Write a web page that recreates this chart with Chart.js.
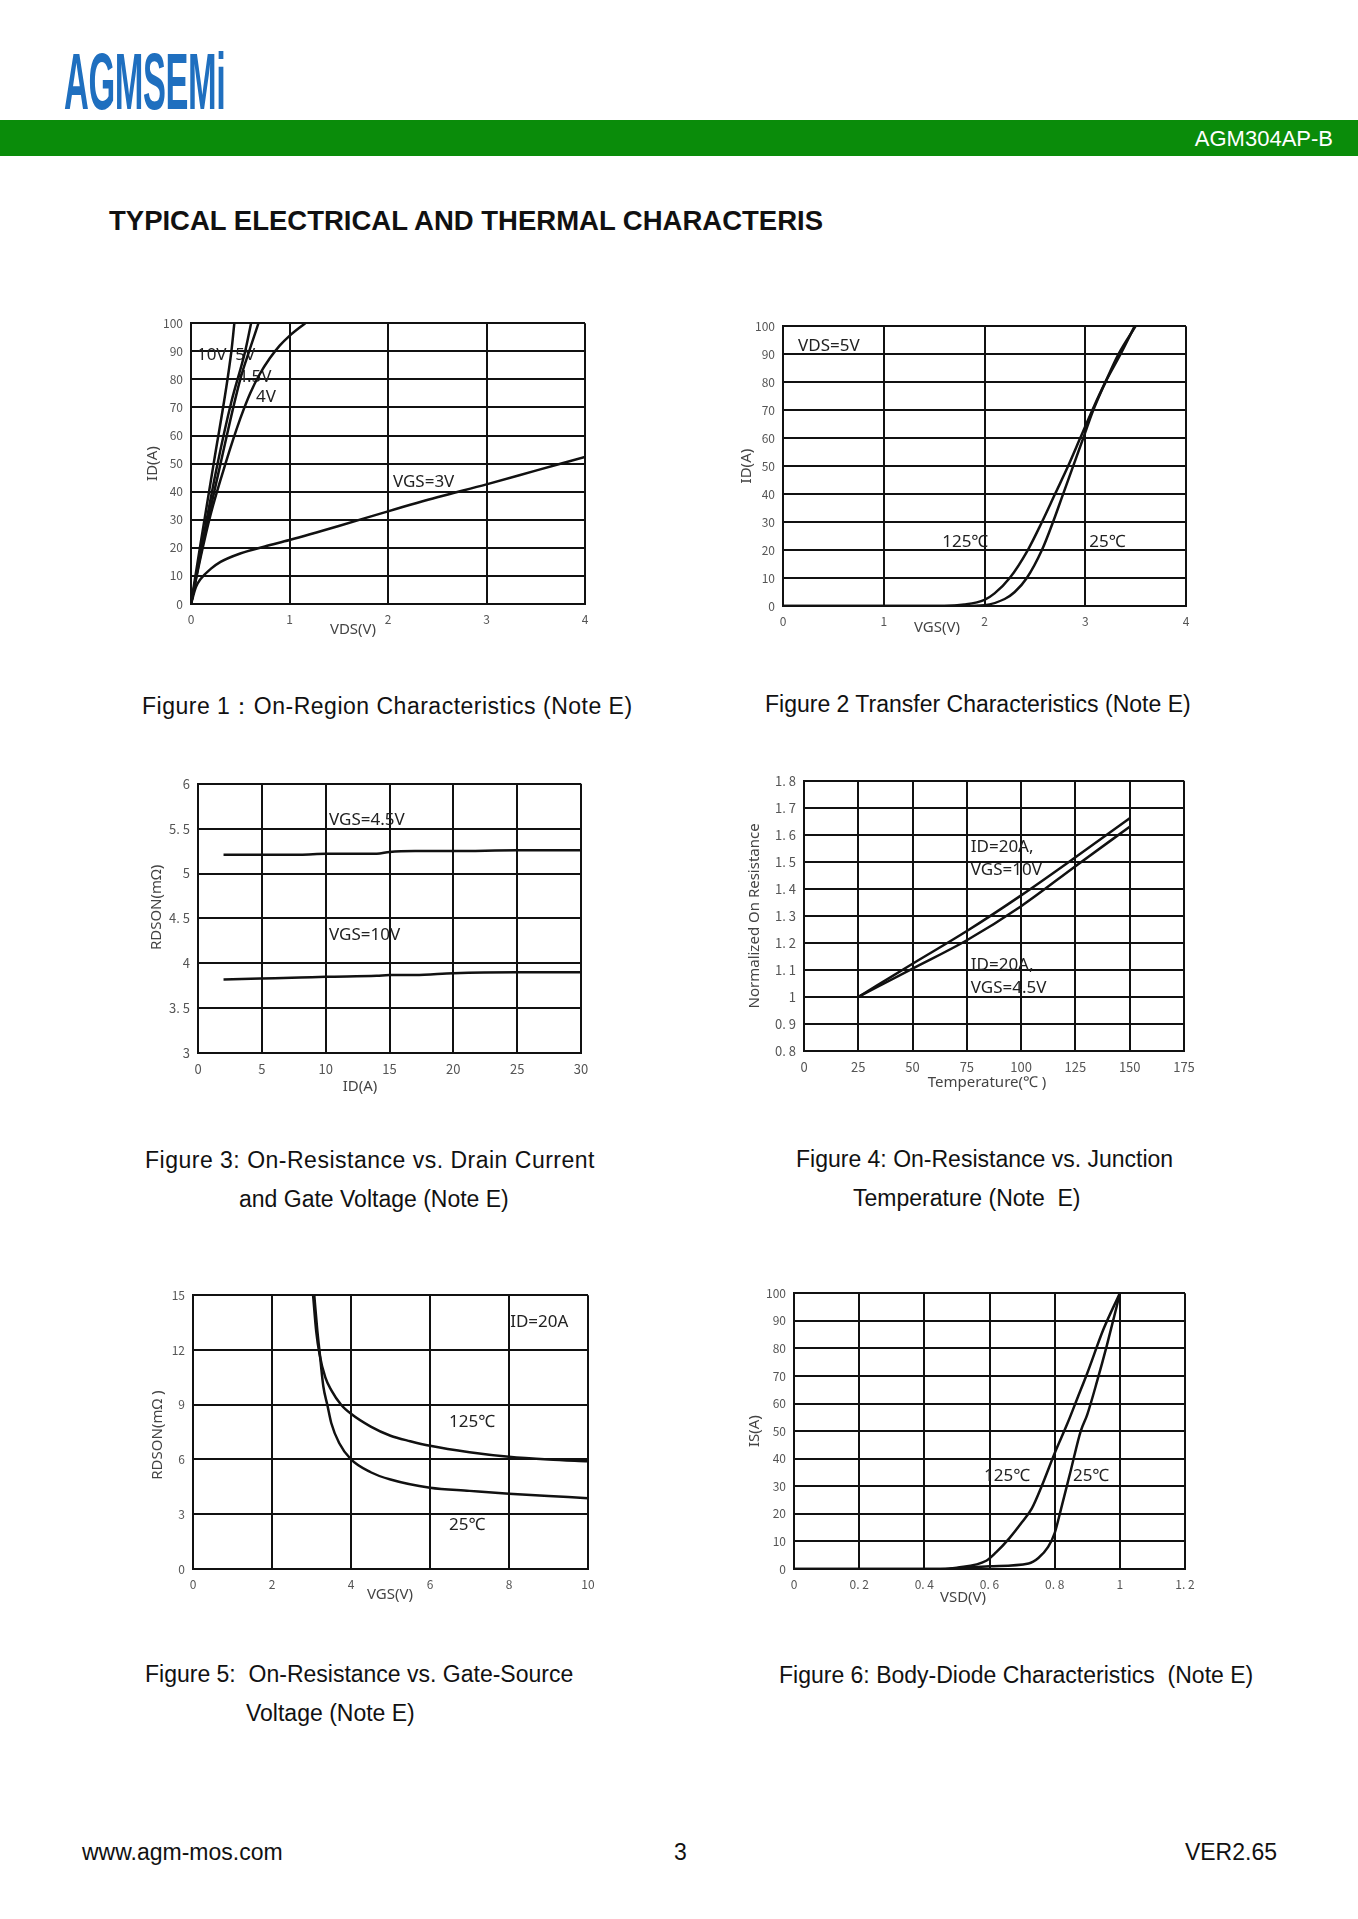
<!DOCTYPE html>
<html>
<head>
<meta charset="utf-8">
<script src="https://cdn.jsdelivr.net/npm/chart.js@4.4.0/dist/chart.umd.js"></script>
<style>
  body { margin:0; background:#fff; }
  #page { position:relative; width:1358px; height:1919px; overflow:hidden; background:#fff; font-family:"Liberation Sans", Arial, sans-serif; color:#111; }
  .abs { position:absolute; white-space:pre; }
  .cap { font-size:23px; line-height:26px; }
  canvas { position:absolute; }
</style>
</head>
<body>
<div id="page">
  <div class="abs" style="left:64px; top:36px; font:bold 80px 'Liberation Sans', Arial, sans-serif; color:#1f6fbf; transform:scaleX(0.43); transform-origin:left top; letter-spacing:-1px;">AGMSEMi</div>
  <div class="abs" style="left:0; top:120px; width:1358px; height:36px; background:#0a8c0a;"></div>
  <div class="abs" style="right:25px; top:126px; font-size:22px; line-height:26px; color:#fff;">AGM304AP-B</div>
  <div class="abs" style="left:109px; top:205px; font:bold 27.5px/32px 'Liberation Sans', Arial, sans-serif;">TYPICAL ELECTRICAL AND THERMAL CHARACTERIS</div>

  <canvas id="c1"></canvas>
  <canvas id="c2"></canvas>
  <canvas id="c3"></canvas>
  <canvas id="c4"></canvas>
  <canvas id="c5"></canvas>
  <canvas id="c6"></canvas>

  <div class="abs cap" style="left:142px; top:693px; letter-spacing:0.5px;">Figure 1：On-Region Characteristics (Note E)</div>
  <div class="abs cap" style="left:765px; top:691px;">Figure 2 Transfer Characteristics (Note E)</div>
  <div class="abs cap" style="left:145px; top:1147px; letter-spacing:0.5px;">Figure 3: On-Resistance vs. Drain Current</div>
  <div class="abs cap" style="left:239px; top:1186px;">and Gate Voltage (Note E)</div>
  <div class="abs cap" style="left:796px; top:1146px;">Figure 4: On-Resistance vs. Junction</div>
  <div class="abs cap" style="left:853px; top:1185px;">Temperature (Note  E)</div>
  <div class="abs cap" style="left:145px; top:1661px;">Figure 5:  On-Resistance vs. Gate-Source</div>
  <div class="abs cap" style="left:246px; top:1700px;">Voltage (Note E)</div>
  <div class="abs cap" style="left:779px; top:1662px;">Figure 6: Body-Diode Characteristics  (Note E)</div>

  <div class="abs cap" style="left:82px; top:1839px;">www.agm-mos.com</div>
  <div class="abs cap" style="left:674px; top:1839px;">3</div>
  <div class="abs cap" style="right:81px; top:1839px;">VER2.65</div>
</div>

<script>
// ---- Figure 1: On-Region Characteristics ----
const f1Vds10 = [0, 0.09, 0.23, 0.41, 0.44];
const f1Id10  = [0, 20, 50, 90, 100];
const f1Vds5  = [0, 0.1, 0.27, 0.41, 0.55, 0.61];
const f1Id5   = [0, 19, 50, 72, 90, 100];
const f1Vds45 = [0, 0.1, 0.3, 0.5, 0.6, 0.685];
const f1Id45  = [0, 18, 50, 80, 91, 100];
const f1Vds4  = [0, 0.1, 0.2, 0.35, 0.5, 0.6, 0.7, 0.8, 0.9, 1.0, 1.16];
const f1Id4   = [0, 17, 32, 50, 66, 75, 82, 87.5, 92, 95.5, 100];
const f1Vds3  = [0, 0.05, 0.1, 0.2, 0.3, 0.5, 0.75, 1, 1.5, 2, 2.5, 3, 3.5, 4];
const f1Id3   = [0, 6, 9, 12.5, 15, 18, 20.5, 22.8, 27.8, 33, 38, 42.6, 47.5, 52.4];

// ---- Figure 2: Transfer Characteristics ----
const f2Vgs25  = [0, 1.8, 2.0, 2.2, 2.3, 2.42, 2.57, 2.68, 2.78, 2.88, 2.98, 3.08, 3.2, 3.33, 3.5];
const f2Id25   = [0, 0, 0.3, 2.5, 5, 10, 20, 30, 40, 50, 60, 70, 80, 90, 100];
const f2Vgs125 = [0, 1.6, 1.8, 2.0, 2.1, 2.25, 2.43, 2.57, 2.7, 2.83, 2.95, 3.07, 3.2, 3.35, 3.49];
const f2Id125  = [0, 0, 0.5, 2.2, 4.5, 10, 20, 30, 40, 50, 60, 70, 80, 90, 100];

// ---- Figure 3: RDSON vs ID ----
const f3Id     = [2, 5, 8, 10, 14, 15, 17, 20, 25, 30];
const f3Rds45  = [5.21, 5.21, 5.21, 5.22, 5.22, 5.24, 5.25, 5.25, 5.26, 5.26];
const f3Rds10  = [3.82, 3.83, 3.84, 3.85, 3.86, 3.87, 3.87, 3.89, 3.9, 3.9];

// ---- Figure 4: Normalized RDSON vs temperature ----
const f4Temp   = [25, 50, 75, 100, 125, 150];
const f4Rn10   = [1.0, 1.123, 1.244, 1.376, 1.517, 1.661];
const f4Rn45   = [1.0, 1.105, 1.21, 1.336, 1.484, 1.63];

// ---- Figure 5: RDSON vs VGS ----
const f5Vgs125 = [3.04, 3.12, 3.2, 3.35, 3.5, 3.75, 4, 4.5, 5, 5.5, 6, 7, 8, 9, 10];
const f5Rds125 = [15, 13, 11.8, 10.5, 9.8, 9.0, 8.5, 7.8, 7.3, 7.0, 6.75, 6.4, 6.15, 6.0, 5.9];
const f5Vgs25  = [3.07, 3.15, 3.2, 3.3, 3.4, 3.5, 3.7, 4, 4.5, 5, 6, 7, 8, 9, 10];
const f5Rds25  = [15, 13, 12, 10, 9, 8, 6.9, 6.0, 5.3, 4.9, 4.45, 4.28, 4.12, 4.0, 3.88];

// ---- Figure 6: Body diode ----
const f6Vsd125 = [0, 0.45, 0.5, 0.59, 0.62, 0.66, 0.7, 0.73, 0.76, 0.8, 0.84, 0.87, 0.9, 0.95, 1.0];
const f6Is125  = [0, 0, 0.5, 3, 6, 11, 17, 22, 30, 42, 53, 62, 71, 87, 100];
const f6Vsd25  = [0, 0.45, 0.5, 0.6, 0.72, 0.75, 0.78, 0.8, 0.82, 0.85, 0.88, 0.9, 0.93, 0.96, 0.99, 1.0];
const f6Is25   = [0, 0, 0.3, 1, 2, 4, 8, 13, 22, 36, 50, 56, 68, 81, 95, 100];

const pts = (xs, ys) => xs.map((x, i) => ({ x, y: ys[i] }));
const fmt = (v) => String(+Number(v).toFixed(2)).replace('.', '. ');

const textPlugin = {
  id: 'texts',
  beforeDatasetsDraw(chart, args, o) {
    const { ctx, scales: { x, y } } = chart;
    ctx.save();
    ctx.fillStyle = '#222';
    ctx.font = '17px "Noto Sans", "Noto Sans CJK SC", sans-serif';
    ctx.textBaseline = 'middle';
    for (const [t, vx, vy] of o.notes || []) ctx.fillText(t, x.getPixelForValue(vx), y.getPixelForValue(vy));
    ctx.restore();
  },
  afterDraw(chart, args, o) {
    const { ctx, chartArea: a } = chart;
    ctx.save();
    ctx.fillStyle = '#444';
    ctx.font = '15px "Noto Sans", "Noto Sans CJK SC", sans-serif';
    ctx.textAlign = 'center';
    ctx.textBaseline = 'middle';
    if (o.xTitle) ctx.fillText(o.xTitle[0], a.left + o.xTitle[1], a.bottom + o.xTitle[2]);
    if (o.yTitle) {
      ctx.translate(a.left - o.yTitle[1], (a.top + a.bottom) / 2 + (o.yTitle[2] || 0));
      ctx.rotate(-Math.PI / 2);
      ctx.fillText(o.yTitle[0], 0, 0);
    }
    ctx.restore();
  }
};

function axis(min, max, step, pos, size) {
  return {
    type: 'linear', position: pos, min, max,
    ticks: { stepSize: step, color: '#555', padding: 8, font: { size: size || 12, family: '"Noto Sans CJK SC", "DejaVu Sans", sans-serif' }, callback: fmt, autoSkip: false, maxRotation: 0 },
    grid: { color: '#111', lineWidth: 2, drawTicks: false },
    border: { color: '#111', width: 2 },
    afterFit(s) { if (pos === 'left') s.width = 70; else s.height = 50; }
  };
}

function makeChart(id, box, xa, ya, series, texts) {
  const cv = document.getElementById(id);
  const w = box[2] - box[0] + 95, h = box[3] - box[1] + 65;
  cv.width = w; cv.height = h;
  cv.style.left = (box[0] - 70) + 'px';
  cv.style.top = (box[1] - 15) + 'px';
  cv.style.width = w + 'px'; cv.style.height = h + 'px';
  new Chart(cv, {
    type: 'line',
    data: { datasets: series.map(d => ({ data: d, borderColor: '#111', borderWidth: 2.5, pointRadius: 0, cubicInterpolationMode: 'monotone', fill: false })) },
    options: {
      responsive: false, animation: false, devicePixelRatio: 1,
      layout: { padding: { left: 0, top: 15, right: 25, bottom: 0 } },
      plugins: { legend: { display: false }, tooltip: { enabled: false }, texts },
      scales: { x: xa, y: ya }
    },
    plugins: [textPlugin]
  });
}

makeChart('c1', [191, 323, 585, 604], axis(0, 4, 1, 'bottom'), axis(0, 100, 10, 'left'),
  [pts(f1Vds10, f1Id10), pts(f1Vds5, f1Id5), pts(f1Vds45, f1Id45), pts(f1Vds4, f1Id4), pts(f1Vds3, f1Id3)],
  { notes: [['10V', 0.06, 88.6], ['5V', 0.45, 88.6], ['4.5V', 0.47, 80.8], ['4V', 0.66, 73.7], ['VGS=3V', 2.05, 43.4]],
    xTitle: ['VDS(V)', 162, 26], yTitle: ['ID(A)', 38] });

makeChart('c2', [783, 326, 1186, 606], axis(0, 4, 1, 'bottom'), axis(0, 100, 10, 'left'),
  [pts(f2Vgs25, f2Id25), pts(f2Vgs125, f2Id125)],
  { notes: [['VDS=5V', 0.15, 92.9], ['125℃', 1.58, 22.9], ['25℃', 3.04, 22.9]],
    xTitle: ['VGS(V)', 154, 22], yTitle: ['ID(A)', 36] });

makeChart('c3', [198, 783, 581, 1053], axis(0, 30, 5, 'bottom', 13), axis(3, 6, 0.5, 'left', 13),
  [pts(f3Id, f3Rds45), pts(f3Id, f3Rds10)],
  { notes: [['VGS=4.5V', 10.26, 5.6], ['VGS=10V', 10.26, 4.31]],
    xTitle: ['ID(A)', 162, 34], yTitle: ['RDSON(mΩ)', 41, -11] });

makeChart('c4', [804, 780, 1184, 1051], axis(0, 175, 25, 'bottom', 13), axis(0.8, 1.8, 0.1, 'left', 13),
  [pts(f4Temp, f4Rn10), pts(f4Temp, f4Rn45)],
  { notes: [['ID=20A,', 76.8, 1.553], ['VGS=10V', 76.8, 1.468], ['ID=20A,', 76.8, 1.117], ['VGS=4.5V', 76.8, 1.033]],
    xTitle: ['Temperature(℃ )', 183, 32], yTitle: ['Normalized On Resistance', 49] });

makeChart('c5', [193, 1295, 588, 1569], axis(0, 10, 2, 'bottom'), axis(0, 15, 3, 'left'),
  [pts(f5Vgs125, f5Rds125), pts(f5Vgs25, f5Rds25)],
  { notes: [['ID=20A', 8.03, 13.5], ['125℃', 6.48, 8.05], ['25℃', 6.48, 2.41]],
    xTitle: ['VGS(V)', 197, 26], yTitle: ['RDSON(mΩ )', 35, 3] });

makeChart('c6', [794, 1293, 1185, 1569], axis(0, 1.2, 0.2, 'bottom'), axis(0, 100, 10, 'left'),
  [pts(f6Vsd125, f6Is125), pts(f6Vsd25, f6Is25)],
  { notes: [['125℃', 0.583, 33.8], ['25℃', 0.856, 33.8]],
    xTitle: ['VSD(V)', 169, 29], yTitle: ['IS(A)', 39] });
</script>
</body>
</html>
